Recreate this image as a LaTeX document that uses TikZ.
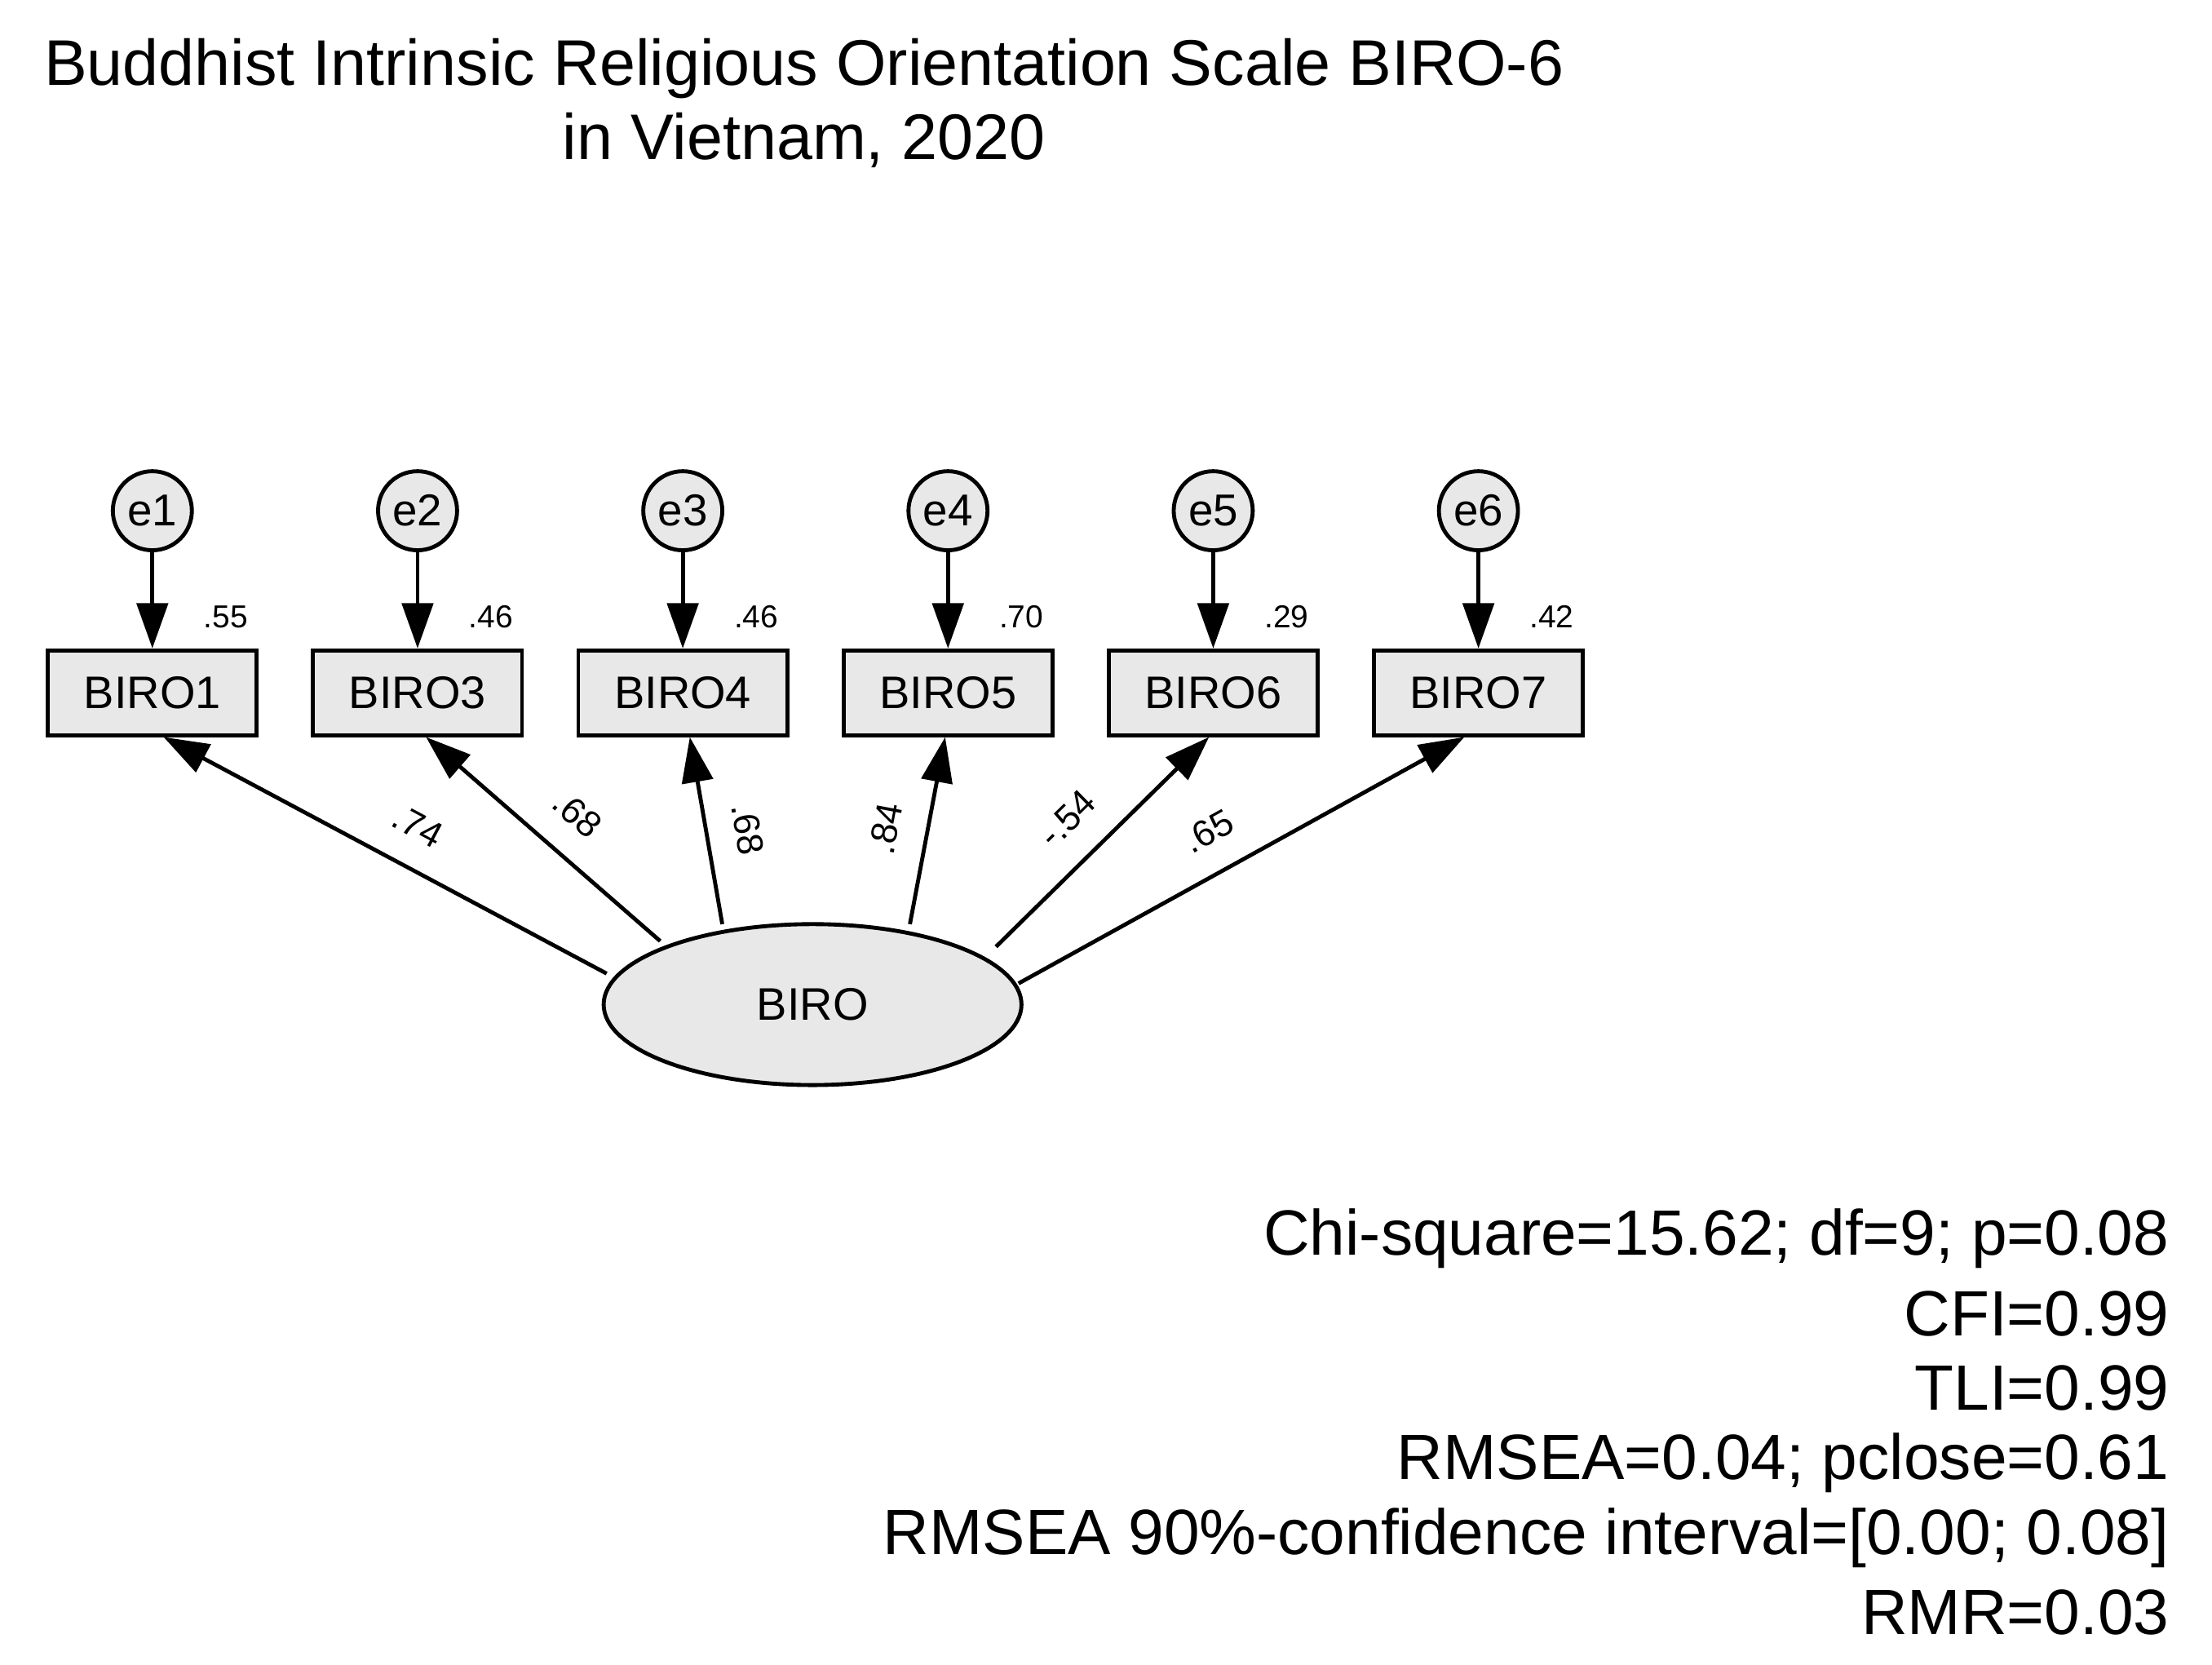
\documentclass[tikz,border=0pt]{standalone}
\usepackage{fontspec}
\setmainfont{Liberation Sans}
\usetikzlibrary{shapes.geometric,arrows.meta}
\begin{document}
\begin{tikzpicture}[x=0.01cm,y=-0.01cm,
  err/.style={circle,draw,thick,fill=gray!18,minimum size=0.56cm,inner sep=0pt,font=\fontsize{9}{10}\selectfont},
  obs/.style={rectangle,draw,thick,fill=gray!18,minimum width=1.48cm,minimum height=0.6cm,font=\fontsize{9.2}{10}\selectfont},
  r2/.style={font=\fontsize{6.4}{7}\selectfont},
  arr/.style={thick,-{Triangle[length=0.32cm,width=0.22cm]}},
  lab/.style={font=\fontsize{7.4}{8}\selectfont,sloped,above=2pt},
  fit/.style={anchor=east,font=\fontsize{12.9}{14}\selectfont}]
\useasboundingbox (0,0) rectangle (1568,1180);
\node[font=\fontsize{13}{15}\selectfont,align=center] (title) at (570,73) {Buddhist Intrinsic Religious Orientation Scale BIRO-6\\in Vietnam, 2020};
\node[ellipse,draw,thick,fill=gray!18,minimum width=2.96cm,minimum height=1.14cm,font=\fontsize{9.2}{10}\selectfont] (biro) at (576,712) {BIRO};
\foreach \i/\n/\x/\r in {1/1/108/.55,2/3/296/.46,3/4/484/.46,4/5/672/.70,5/6/860/.29,6/7/1048/.42}{
  \node[err] (e\i) at (\x,362) {e\i};
  \node[obs] (b\i) at (\x,491) {BIRO\n};
  \node[r2] (r\i) at (\x+52,437) {\r};
  \draw[arr] (e\i) -- (b\i);
}
\coordinate (s1) at (430,690); \coordinate (s2) at (468,667); \coordinate (s3) at (512,655);
\coordinate (s4) at (645,655); \coordinate (s5) at (706,671); \coordinate (s6) at (722,697);
\draw[arr] (s1) -- node[lab,pos=0.47] {.74} ([xshift=0.08cm]b1.south);
\draw[arr] (s2) -- node[lab,pos=0.47] {.68} ([xshift=0.06cm]b2.south);
\draw[arr] (s3) -- node[lab,pos=0.47] {.68} ([xshift=0.05cm]b3.south);
\draw[arr] (s4) -- node[lab,pos=0.47] {.84} ([xshift=-0.02cm]b4.south);
\draw[arr] (s5) -- node[lab,pos=0.47] {-.54} ([xshift=-0.03cm]b5.south);
\draw[arr] (s6) -- node[lab,pos=0.47] {.65} ([xshift=-0.1cm]b6.south);
\node[fit] (f1) at (1550,878) {Chi-square=15.62; df=9; p=0.08};
\node[fit] (f2) at (1550,931) {CFI=0.99};
\node[fit] (f3) at (1550,984) {TLI=0.99};
\node[fit] (f4) at (1550,1037) {RMSEA=0.04; pclose=0.61};
\node[fit] (f5) at (1550,1090) {RMSEA 90\%-confidence interval=[0.00; 0.08]};
\node[fit] (f6) at (1550,1143) {RMR=0.03};
\end{tikzpicture}
\end{document}
